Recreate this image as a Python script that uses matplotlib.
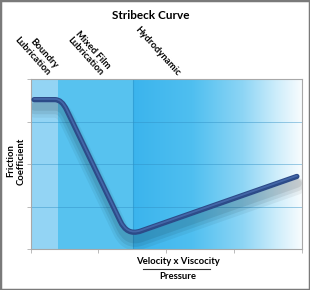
import matplotlib
matplotlib.use("Agg")
import matplotlib.pyplot as plt
import numpy as np
from matplotlib.path import Path
from matplotlib.patches import PathPatch, Rectangle
from matplotlib.colors import LinearSegmentedColormap
import matplotlib.patheffects as pe

# ---- data ----
title = "Stribeck Curve"
regions = ["Boundry\nLubrication", "Mixed Film\nLubrication", "Hydrodynamic"]
region_edges = [0.0, 0.40, 1.51, 4.0]
region_colors = ["#93d4f4", "#57c2ef"]
# curve vertices (data coords) and segment types (line / quadratic bend)
curve_x = [0.05, 0.36, 0.46, 0.53, 1.32, 1.42, 1.62, 3.93]
curve_y = [3.52, 3.52, 3.52, 3.28, 0.66, 0.31, 0.42, 1.71]
curve_codes = [Path.MOVETO, Path.LINETO, Path.CURVE3, Path.CURVE3,
               Path.LINETO, Path.CURVE3, Path.CURVE3, Path.LINETO]
grid_y = [1, 2, 3]
ticks = [0, 1, 2, 3, 4]
ylabel = "Friction\nCoefficient"
xlabel_top = "Velocity x Viscocity"
xlabel_bottom = "Pressure"

FONT = "Lato"
fig = plt.figure(figsize=(3.1, 2.9), dpi=100)
ax = fig.add_axes([0.099, 0.1414, 0.874, 0.5852])
ax.set_xlim(0, 4)
ax.set_ylim(0, 4)

# background bands
for i, c in enumerate(region_colors):
    ax.axvspan(region_edges[i], region_edges[i + 1], color=c, lw=0, zorder=0)
cmap = LinearSegmentedColormap.from_list(
    "fade", [(0, "#3bb4ed"), (0.35, "#4fbff0"), (0.65, "#8dd5f5"),
             (0.85, "#cdedfb"), (1.0, "#f8fcfe")])
grad = np.linspace(0, 1, 256).reshape(1, -1)
ax.imshow(grad, cmap=cmap, extent=[region_edges[2], region_edges[3], 0, 4],
          aspect="auto", zorder=0)
ax.axvline(region_edges[2], color="#2f9ad0", lw=0.8, alpha=0.7, zorder=1)
for gy in grid_y:
    ax.axhline(gy, color="#2f8fc4", lw=0.7, alpha=0.45, zorder=1)

# curve with soft shadow
path = Path(np.column_stack([curve_x, curve_y]), curve_codes)
for k, (off, a, w) in enumerate([(7, 0.05, 12), (6, 0.07, 9), (5, 0.08, 6)]):
    sp = PathPatch(path, fill=False, lw=w, edgecolor="black", alpha=a,
                   capstyle="round", joinstyle="round", zorder=2,
                   path_effects=[])
    sp.set_transform(ax.transData + matplotlib.transforms.ScaledTranslation(
        0.5 / 72, -off / 72, fig.dpi_scale_trans))
    ax.add_patch(sp)
cp = PathPatch(path, fill=False, lw=3.8, edgecolor="#2c4b88",
               capstyle="round", joinstyle="round", zorder=3)
ax.add_patch(cp)
hp = PathPatch(path, fill=False, lw=1.3, edgecolor="#4a6db0",
               capstyle="round", joinstyle="round", zorder=4, alpha=0.8)
hp.set_transform(ax.transData + matplotlib.transforms.ScaledTranslation(
    0, 0.5 / 72, fig.dpi_scale_trans))
ax.add_patch(hp)

for s in ax.spines.values():
    s.set_color("#a8a8a8")
    s.set_linewidth(0.8)
ax.set_xticks(ticks)
ax.set_yticks(ticks)
ax.tick_params(length=3, width=0.6, color="#b0b0b0", labelbottom=False,
               labelleft=False)

# region labels (rotated)
label_anchor_x = [0.21, 0.99, 2.13]
for lx, txt in zip(label_anchor_x, regions):
    ax.annotate(txt, xy=(lx, 4), xycoords="data", xytext=(0, 1.5),
                textcoords="offset points", rotation=-48,
                rotation_mode="anchor", ha="right", va="bottom",
                multialignment="right", fontsize=6.8, fontweight="bold",
                family=FONT, linespacing=1.15)

fig.text(0.487, 0.945, title, ha="center", va="center", fontsize=8.5,
         fontweight="bold", family=FONT)
fig.text(0.052, 0.445, ylabel, ha="center", va="center", rotation=90,
         fontsize=6.8, fontweight="bold", family=FONT, linespacing=1.15)
fig.text(0.574, 0.097, xlabel_top, ha="center", va="center", fontsize=6.8,
         fontweight="bold", family=FONT)
fig.add_artist(plt.Line2D([0.461, 0.677], [0.072, 0.072],
                          transform=fig.transFigure, color="#333333", lw=0.8))
fig.text(0.574, 0.045, xlabel_bottom, ha="center", va="center", fontsize=6.8,
         fontweight="bold", family=FONT)

fig.patches.append(Rectangle((0, 0), 1, 1, transform=fig.transFigure,
                             fill=False, edgecolor="#7a7a7a", lw=2.5))
fig.savefig("out.png", dpi=100)
